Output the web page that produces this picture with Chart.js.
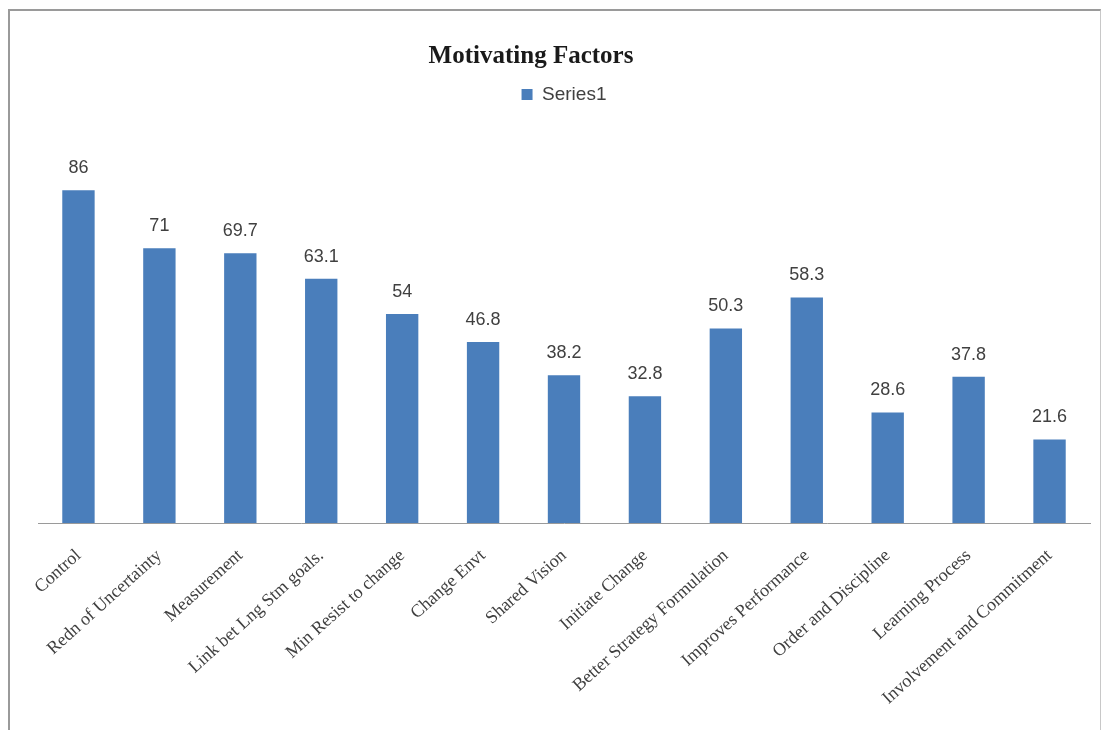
<!DOCTYPE html>
<html>
<head>
<meta charset="utf-8">
<script src="https://cdn.jsdelivr.net/npm/chart.js@4/dist/chart.umd.min.js"></script>
<style>
  html, body { margin: 0; padding: 0; background: #fff; }
  #frame {
    position: absolute; left: 8px; top: 9px; width: 1090px; height: 730px;
    border-left: 2px solid #9a9a9a; border-top: 2px solid #9a9a9a; border-right: 1px solid #c8c8c8;
    background: #fff;
  }
  #wrap { position: absolute; left: 0; top: 0; width: 1090px; height: 719px; }
</style>
</head>
<body>
<div id="frame"><div id="wrap"><canvas id="chart"></canvas></div></div>
<script>
  // Motivating Factors
  const categories = [
    "Control", "Redn of Uncertainty", "Measurement", "Link bet Lng Stm goals.",
    "Min Resist to change", "Change Envt", "Shared Vision", "Initiate Change",
    "Better Strategy Formulation", "Improves Performance", "Order and Discipline",
    "Learning Process", "Involvement and Commitment"
  ];
  const series1 = [86, 71, 69.7, 63.1, 54, 46.8, 38.2, 32.8, 50.3, 58.3, 28.6, 37.8, 21.6];
  const yMin = 0;
  const yMax = 100;
  const chartTitle = "Motivating Factors";

  const barColor = "#4a7ebb";

  // titre dessiné à la main (décalé à gauche comme dans l'original)
  const titlePlugin = {
    id: "titlePlugin",
    afterDraw(chart) {
      const ctx = chart.ctx;
      ctx.save();
      ctx.font = "bold 25px 'Liberation Serif', 'Times New Roman', serif";
      ctx.fillStyle = "#1a1a1a";
      ctx.textAlign = "center";
      ctx.textBaseline = "alphabetic";
      ctx.fillText(chartTitle, 521, 52);
      ctx.restore();
    },
  };

  const valueLabels = {
    id: "valueLabels",
    afterDatasetsDraw(chart) {
      const ctx = chart.ctx;
      const meta = chart.getDatasetMeta(0);
      ctx.save();
      ctx.font = "18px 'Liberation Sans', Arial, sans-serif";
      ctx.fillStyle = "#404040";
      ctx.textAlign = "center";
      ctx.textBaseline = "alphabetic";
      meta.data.forEach((bar, i) => {
        ctx.fillText(String(series1[i]), bar.x, bar.y - 17);
      });
      ctx.restore();
    },
  };

  const legendSpace = {
    id: "legendSpace",
    beforeInit(chart) {
      const fit = chart.legend.fit;
      chart.legend.fit = function () {
        fit.bind(chart.legend)();
        this.height += 22;
      };
    },
  };

  new Chart(document.getElementById("chart"), {
    type: "bar",
    data: {
      labels: categories,
      datasets: [
        {
          label: "Series1",
          data: series1,
          backgroundColor: barColor,
          borderWidth: 0,
          barPercentage: 0.4,
          categoryPercentage: 1,
        },
      ],
    },
    options: {
      responsive: true,
      maintainAspectRatio: false,
      animation: false,
      layout: { padding: { left: 28, right: 10, top: 66, bottom: 7 } },
      plugins: {
        title: { display: false },
        legend: {
          display: true,
          labels: {
            color: "#404040",
            font: { family: "'Liberation Sans', Arial, sans-serif", size: 19 },
            boxWidth: 11,
            boxHeight: 11,
            padding: 8,
          },
        },
        tooltip: { enabled: false },
      },
      scales: {
        x: {
          grid: { display: false },
          border: { display: true, color: "#9a9a9a", width: 1 },
          ticks: {
            autoSkip: false,
            maxRotation: 42,
            minRotation: 42,
            padding: 14,
            color: "#404040",
            font: { family: "'Liberation Serif', 'Times New Roman', serif", size: 18 },
          },
        },
        y: {
          display: false,
          min: yMin,
          max: yMax,
        },
      },
    },
    plugins: [valueLabels, legendSpace, titlePlugin],
  });
</script>
</body>
</html>
